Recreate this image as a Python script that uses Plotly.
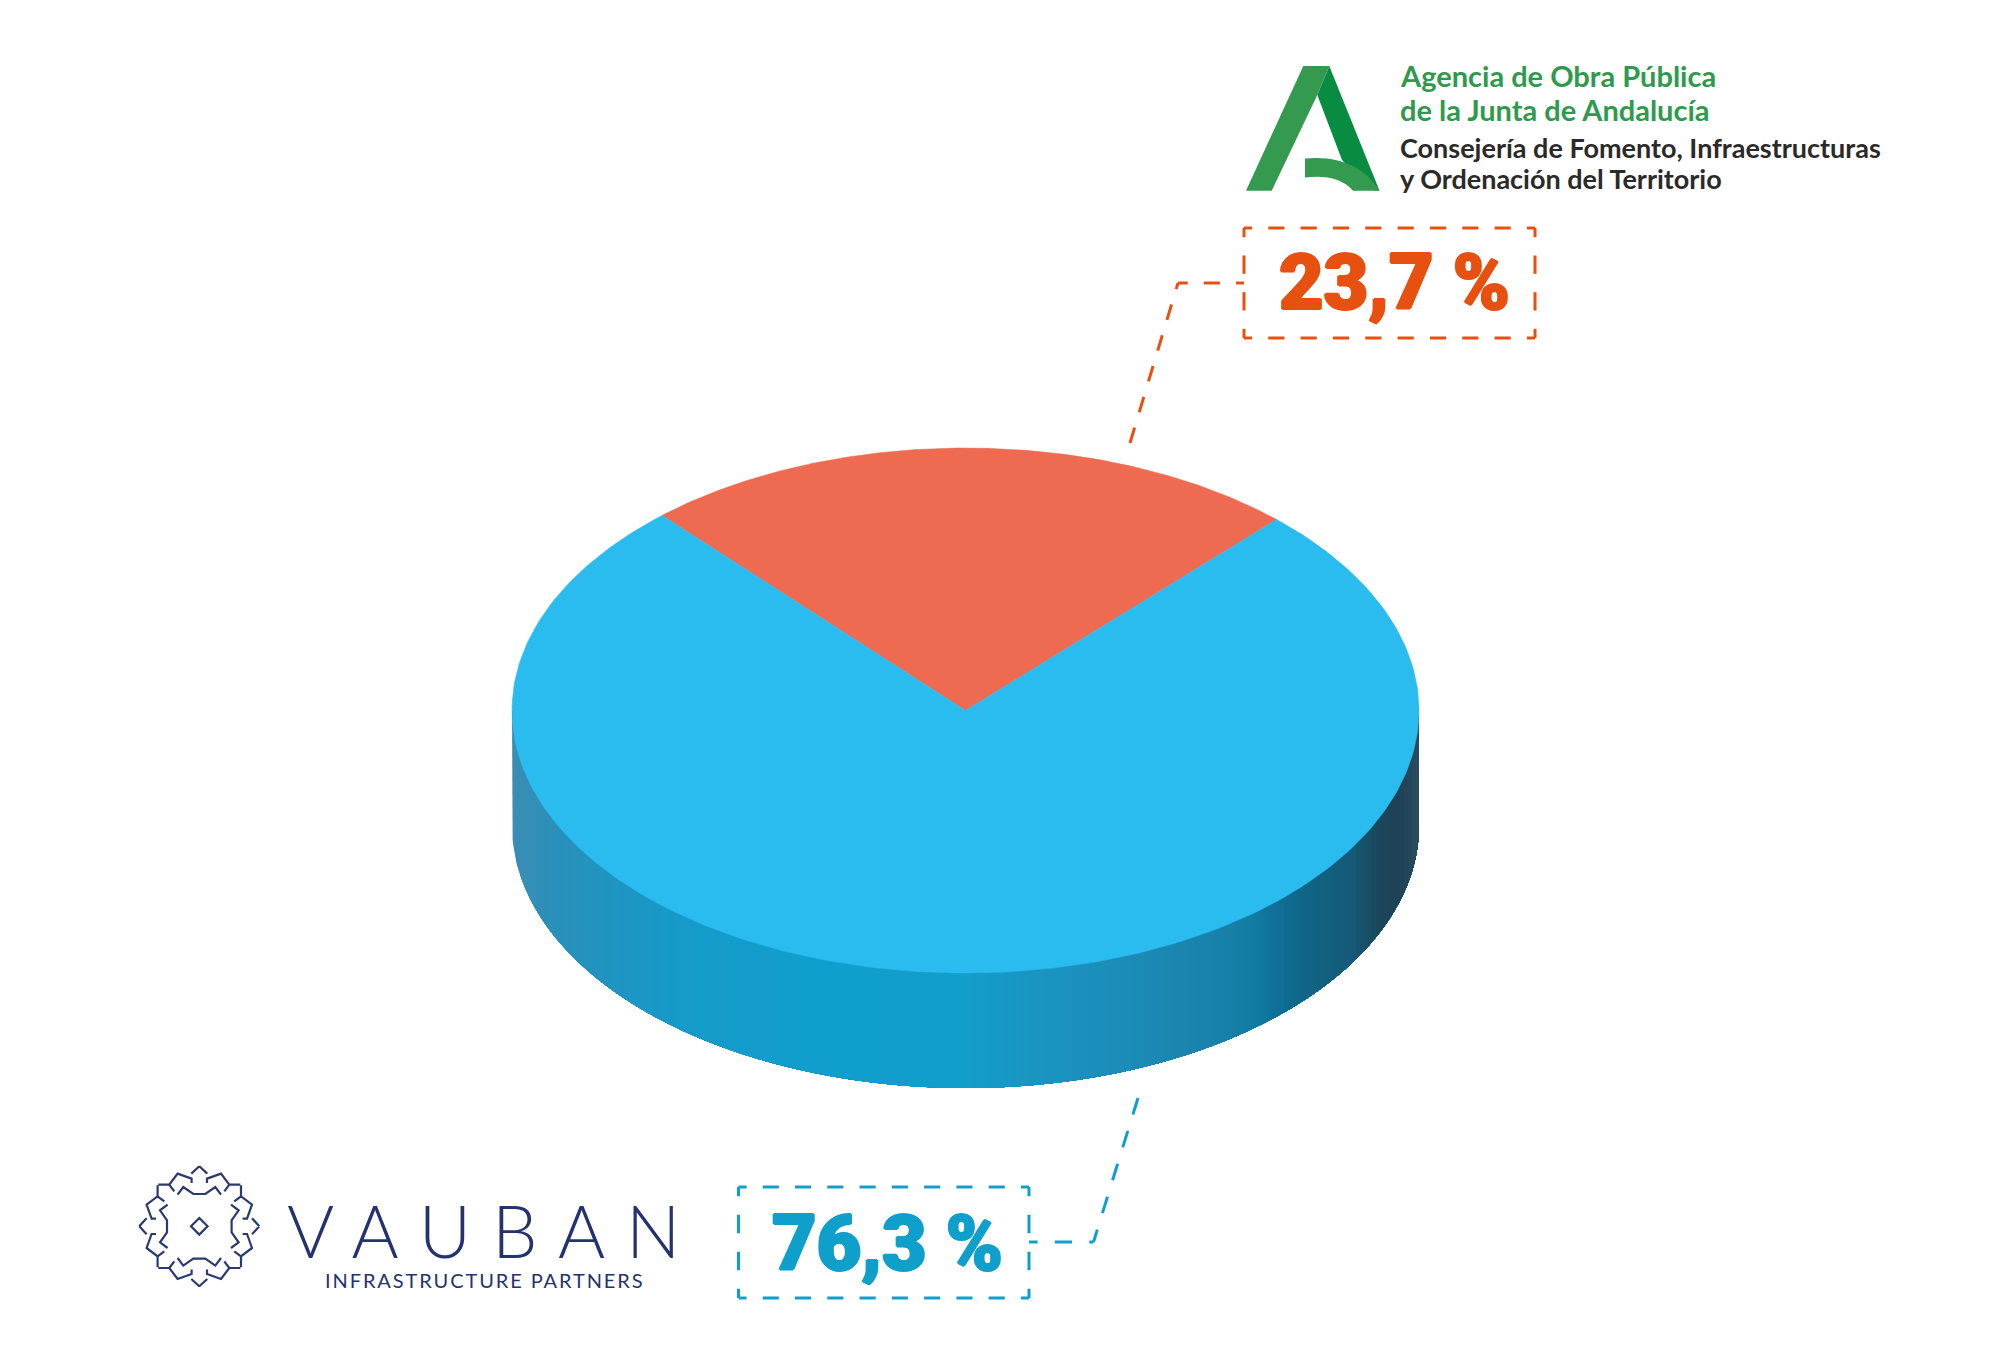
import numpy as np
import plotly.graph_objects as go

# ---- data ----
labels = ["Agencia de Obra Pública de la Junta de Andalucía", "Vauban Infrastructure Partners"]
shares = [23.7, 76.3]
value_text = ["23,7 %", "76,3 %"]
colors_top = ["#EE6A50", "#2ABBEF"]
value_colors = ["#E8500F", "#0F9FCB"]

# ---- geometry of the tilted disc (pixels) ----
CX, CY, RX, RY, DEPTH = 965.5, 710.5, 453.5, 262.5, 115
START_DEG = -42.0

side_stops_x = [512, 554, 617, 681, 809, 960, 1038, 1115, 1210, 1250, 1274, 1300, 1351, 1383, 1400, 1419]
side_stops_c = ["#3B8DB3", "#2A90BA", "#1E95C2", "#169AC9", "#109ECD", "#119ECC", "#1A94C1", "#1B8DB9",
                "#1A82AB", "#127DA3", "#0F7199", "#0F6688", "#155A78", "#1C4459", "#1F4256", "#2A4C5E"]


def hex2rgb(h):
    return np.array([int(h[i:i + 2], 16) for i in (1, 3, 5)], float)


def side_color(x):
    rgb = [np.interp(x, side_stops_x, [hex2rgb(c)[k] for c in side_stops_c]) for k in range(3)]
    return "rgb(%d,%d,%d)" % tuple(int(round(v)) for v in rgb)


def sector(a0, a1, n=240):
    t = np.radians(np.linspace(a0, a1, n))
    xs = CX + RX * np.sin(t)
    ys = CY - RY * np.cos(t)
    return np.r_[CX, xs, CX], np.r_[CY, ys, CY]


fig = go.Figure()

# side wall: painted left to right, each layer covering the rest of the band
for x0 in np.arange(side_stops_x[0], side_stops_x[-1], 4.0):
    t0 = np.arccos(np.clip((x0 - CX) / RX, -1, 1))
    t = np.linspace(t0, 0, 120)
    xs = CX + RX * np.cos(t)
    low = CY + DEPTH + RY * np.sin(t)
    fig.add_trace(go.Scatter(x=np.r_[xs[0], xs, xs[-1]], y=np.r_[CY, low, CY], mode="lines",
                             fill="toself", fillcolor=side_color(x0 + 2), line=dict(width=0),
                             hoverinfo="skip", showlegend=False))

# top face from the shares
a = START_DEG
for share, col, name in zip(shares, colors_top, labels):
    b = a + 360 * share / sum(shares)
    xs, ys = sector(a, b)
    fig.add_trace(go.Scatter(x=xs, y=ys, mode="lines", fill="toself", fillcolor=col, line=dict(width=0.5, color=col),
                             name=name, hoverinfo="name", showlegend=False))
    a = b


# ---- decoration ----
shapes = []


def line_seg(x0, y0, x1, y1, color, w=3):
    shapes.append(dict(type="line", x0=x0, y0=y0, x1=x1, y1=y1, xref="x", yref="y", line=dict(color=color, width=w)))


def dashed_side(x0, y0, x1, y1, period, color):
    L = np.hypot(x1 - x0, y1 - y0)
    n = int(round(L / period))
    p = L / n
    for k in range(n + 1):
        s0, s1 = max(0, k * p - p / 4), min(L, k * p + p / 4)
        line_seg(x0 + (x1 - x0) * s0 / L, y0 + (y1 - y0) * s0 / L, x0 + (x1 - x0) * s1 / L, y0 + (y1 - y0) * s1 / L, color)


def dashed_box(x0, y0, x1, y1, color):
    dashed_side(x0, y0, x1, y0, 32, color)
    dashed_side(x0, y1, x1, y1, 32, color)
    dashed_side(x0, y0, x0, y1, 37, color)
    dashed_side(x1, y0, x1, y1, 37, color)


def leader(pts, color, k):
    """Dashes run along the whole polyline, half a dash at the box, a full dash at the far end."""
    pts = np.array(pts, float)
    seg = np.hypot(*np.diff(pts, axis=0).T)
    cum = np.r_[0, np.cumsum(seg)]
    L = cum[-1]
    p = L / (k + 0.25)
    for i in range(k + 1):
        s0, s1 = max(0, i * p - p / 4), min(L, i * p + p / 4)
        stops = [s0] + [c for c in cum if s0 < c < s1] + [s1]
        for u, v in zip(stops[:-1], stops[1:]):
            xu, yu = np.interp(u, cum, pts[:, 0]), np.interp(u, cum, pts[:, 1])
            xv, yv = np.interp(v, cum, pts[:, 0]), np.interp(v, cum, pts[:, 1])
            line_seg(xu, yu, xv, yv, color)


BOX_O = (1244, 228, 1535, 338)
BOX_B = (738.5, 1187, 1029, 1298)
dashed_box(*BOX_O, value_colors[0])
dashed_box(*BOX_B, value_colors[1])
leader([(1244, 283), (1178, 283), (1130, 443)], value_colors[0], 7)
leader([(1029, 1242), (1093.5, 1242), (1138, 1098)], value_colors[1], 6)

# Andalucia logo
G_L, G_D = "#339A4F", "#078C41"
shapes.append(dict(type="path", xref="x", yref="y", line=dict(width=0), fillcolor=G_D,
                   path="M1329.3,66 L1379.5,190.7 L1371,190 L1342,160 L1317.3,95 Z"))
shapes.append(dict(type="path", xref="x", yref="y", line=dict(width=0), fillcolor=G_L,
                   path="M1246,190.7 L1303.3,66 L1329.3,66 L1317.3,95 L1271.7,190.7 Z"))
shapes.append(dict(type="path", xref="x", yref="y", line=dict(width=0), fillcolor=G_L,
                   path="M1305,158.5 C1340,155 1366,168 1379.5,190.7 L1353,190.7 C1342,178 1325,175 1305,177.5 Z"))

# Vauban emblem: one octant, repeated through the square's symmetries
EX, EY = 199.3, 1226.3
octant_paths = [
    [(0, -180), (24, -158)],
    [(-23, -130), (-23, -143), (-65, -158), (-90, -125), (-123, -125)],
    [(-90, -125), (-75, -105)],
    [(0, -97), (-18, -97), (-48, -118), (-65, -95)],
]
sym = [(1, 0, 0, 1), (-1, 0, 0, 1), (1, 0, 0, -1), (-1, 0, 0, -1), (0, 1, 1, 0), (0, -1, 1, 0), (0, 1, -1, 0), (0, -1, -1, 0)]
E_COL = "#2A3A70"
d = ""
for pth in octant_paths:
    for (m00, m01, m10, m11) in sym:
        pts = [(EX + (m00 * x + m01 * y) / 3, EY + (m10 * x + m11 * y) / 3) for x, y in pth]
        d += "M" + " L".join("%.1f,%.1f" % p for p in pts) + " "
d += "M%.1f,%.1f L%.1f,%.1f L%.1f,%.1f L%.1f,%.1f Z" % (EX, EY - 8.3, EX + 8.3, EY, EX, EY + 8.3, EX - 8.3, EY)
shapes.append(dict(type="path", xref="x", yref="y", path=d, line=dict(color=E_COL, width=2.2)))


def txt(x, y, s, size, color, family, weight=400, anchor="left", shadow=None):
    f = dict(size=size, color=color, family=family, weight=weight)
    if shadow:
        f["shadow"] = shadow
    return dict(x=x, y=y, xref="x", yref="y", text=s, showarrow=False, xanchor=anchor, yanchor="middle",
                font=f, align="left")


def heavy(c):
    return "1.3px 0 0 {0}, -1.3px 0 0 {0}, 0 1.3px 0 {0}, 0 -1.3px 0 {0}".format(c)


GREEN_T, DARK_T = "#2F9A4D", "#2B2A29"
anns = [
    txt(1398, 75, "Agencia de Obra Pública", 29, GREEN_T, "Lato", 700),
    txt(1398, 109.5, "de la Junta de Andalucía", 29, GREEN_T, "Lato", 700),
    txt(1398, 147.5, "Consejería de Fomento, Infraestructuras", 27, DARK_T, "Lato", 700),
    txt(1398, 178.5, "y Ordenación del Territorio", 27, DARK_T, "Lato", 700),
    txt(1394.5, 283, value_text[0], 77, value_colors[0], "Roboto", 900, "center", heavy(value_colors[0])),
    txt(887, 1244, value_text[1], 77, value_colors[1], "Roboto", 900, "center", heavy(value_colors[1])),
    txt(431, 1230, "VAUBAN", 72, "#24336E", "Lato", 300, "center"),
    txt(462.5, 1280, "INFRASTRUCTURE PARTNERS", 20, "#24336E", "Lato", 400, "center"),
]

fig.update_layout(
    width=2003, height=1372, margin=dict(l=0, r=0, t=0, b=0), paper_bgcolor="white", plot_bgcolor="white",
    xaxis=dict(range=[0, 2003], visible=False, fixedrange=True),
    yaxis=dict(range=[1372, 0], visible=False, fixedrange=True),
    shapes=shapes, annotations=anns, showlegend=False,
)
post = """
document.body.style.margin='0';
document.querySelectorAll('.annotation-text').forEach(function(t){
  if(t.textContent==='VAUBAN'){t.style.letterSpacing='21px';}
  if(t.textContent==='INFRASTRUCTURE PARTNERS'){t.style.letterSpacing='1.9px';}
});
"""
fig.write_html("out.html", post_script=post, config=dict(displayModeBar=False))
